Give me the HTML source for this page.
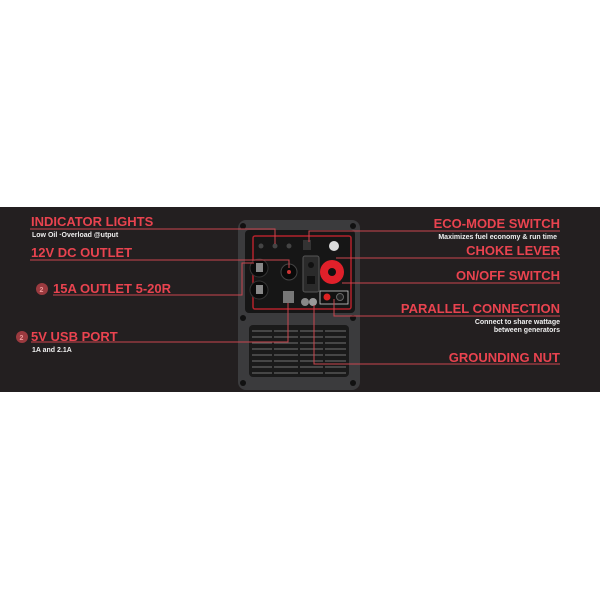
<!DOCTYPE html>
<html><head><meta charset="utf-8"><style>
html,body{margin:0;padding:0;background:#fff;width:600px;height:600px;overflow:hidden}
svg{display:block}
.t{font-family:"Liberation Sans",sans-serif;font-weight:bold;fill:#e9434f;font-size:13px}
.s{font-family:"Liberation Sans",sans-serif;font-weight:bold;fill:#eee;font-size:7px}
.l{stroke:#c9464e;stroke-width:1;fill:none}
</style></head><body>
<svg width="600" height="600" viewBox="0 0 600 600">
<rect x="0" y="207" width="600" height="185" fill="#231f20"/>
<!-- generator body -->
<rect x="238" y="220" width="122" height="170" rx="8" fill="#3b3b3d"/>
<rect x="245" y="230" width="110" height="83" rx="4" fill="#161616"/>
<rect x="253" y="236" width="98" height="73" rx="2" fill="none" stroke="#b3222b" stroke-width="1.5"/>
<circle cx="243" cy="226" r="3" fill="#111"/><circle cx="353" cy="226" r="3" fill="#111"/>
<circle cx="243" cy="318" r="3" fill="#111"/><circle cx="353" cy="318" r="3" fill="#111"/>
<circle cx="243" cy="383" r="3" fill="#111"/><circle cx="353" cy="383" r="3" fill="#111"/>
<!-- grille -->
<rect x="249" y="325" width="100" height="52" rx="4" fill="#1a1a1a"/>
<g stroke="#555" stroke-width="1.5">
<line x1="252" y1="331" x2="346" y2="331"/><line x1="252" y1="337" x2="346" y2="337"/>
<line x1="252" y1="343" x2="346" y2="343"/><line x1="252" y1="349" x2="346" y2="349"/>
<line x1="252" y1="355" x2="346" y2="355"/><line x1="252" y1="361" x2="346" y2="361"/>
<line x1="252" y1="367" x2="346" y2="367"/><line x1="252" y1="373" x2="346" y2="373"/>
</g>
<g stroke="#1a1a1a" stroke-width="2"><line x1="273" y1="327" x2="273" y2="376"/><line x1="299" y1="327" x2="299" y2="376"/><line x1="324" y1="327" x2="324" y2="376"/></g>
<!-- indicators -->
<circle cx="261" cy="246" r="2.5" fill="#444"/><circle cx="275" cy="246" r="2.5" fill="#444"/><circle cx="289" cy="246" r="2.5" fill="#444"/>
<!-- outlets -->
<circle cx="259" cy="268" r="9" fill="#0a0a0a" stroke="#333"/><rect x="256" y="263" width="7" height="9" fill="#888"/>
<circle cx="259" cy="290" r="9" fill="#0a0a0a" stroke="#333"/><rect x="256" y="285" width="7" height="9" fill="#888"/>
<circle cx="289" cy="272" r="8" fill="#0a0a0a" stroke="#444"/><circle cx="289" cy="272" r="2" fill="#c33"/>
<rect x="283" y="291" width="11" height="12" fill="#777"/>
<!-- eco / choke -->
<rect x="303" y="240" width="8" height="10" fill="#333"/>
<circle cx="334" cy="246" r="5" fill="#ddd"/>
<rect x="303" y="256" width="16" height="36" rx="2" fill="#2a2a2a" stroke="#555"/>
<circle cx="311" cy="265" r="3" fill="#111"/><rect x="307" y="276" width="8" height="8" fill="#111"/>
<circle cx="332" cy="272" r="12" fill="#e0202a"/><circle cx="332" cy="272" r="4" fill="#111"/>
<circle cx="305" cy="302" r="4" fill="#888"/><circle cx="313" cy="302" r="4" fill="#999"/>
<rect x="320" y="291" width="28" height="13" fill="#111" stroke="#ccc" stroke-width="0.8"/>
<circle cx="327" cy="297" r="3.5" fill="#d22"/><circle cx="340" cy="297" r="3.5" fill="#222" stroke="#666"/>
<!-- lines -->
<polyline class="l" points="30,229 275,229 275,244"/>
<polyline class="l" points="30,260 289,260 289,268"/>
<polyline class="l" points="53,295 242,295 242,263 254,263"/>
<polyline class="l" points="31,342 288,342 288,303"/>
<polyline class="l" points="560,231 309,231 309,242"/>
<polyline class="l" points="560,258 336,258"/>
<polyline class="l" points="560,283 342,283"/>
<polyline class="l" points="560,316 334,316 334,299"/>
<polyline class="l" points="560,364 314,364 314,305"/>
<!-- left labels -->
<text class="t" x="31" y="226">INDICATOR LIGHTS</text>
<text class="s" x="32" y="237">Low Oil  ·Overload   @utput</text>
<text class="t" x="31" y="257">12V DC OUTLET</text>
<circle cx="42" cy="289" r="6" fill="#9b3a3f"/><text class="s" x="39.5" y="292" style="fill:#e99">2</text>
<text class="t" x="53" y="293">15A OUTLET 5-20R</text>
<circle cx="22" cy="337" r="6" fill="#9b3a3f"/><text class="s" x="19.5" y="340" style="fill:#e99">2</text>
<text class="t" x="31" y="341">5V USB PORT</text>
<text class="s" x="32" y="352">1A and 2.1A</text>
<!-- right labels -->
<text class="t" x="560" y="228" text-anchor="end">ECO-MODE SWITCH</text>
<text class="s" x="557" y="239" text-anchor="end">Maximizes fuel economy &amp;  run time</text>
<text class="t" x="560" y="255" text-anchor="end">CHOKE LEVER</text>
<text class="t" x="560" y="280" text-anchor="end">ON/OFF SWITCH</text>
<text class="t" x="560" y="313" text-anchor="end">PARALLEL CONNECTION</text>
<text class="s" x="560" y="324" text-anchor="end">Connect to share wattage</text>
<text class="s" x="560" y="332" text-anchor="end">between generators</text>
<text class="t" x="560" y="362" text-anchor="end">GROUNDING NUT</text>
</svg>
</body></html>
